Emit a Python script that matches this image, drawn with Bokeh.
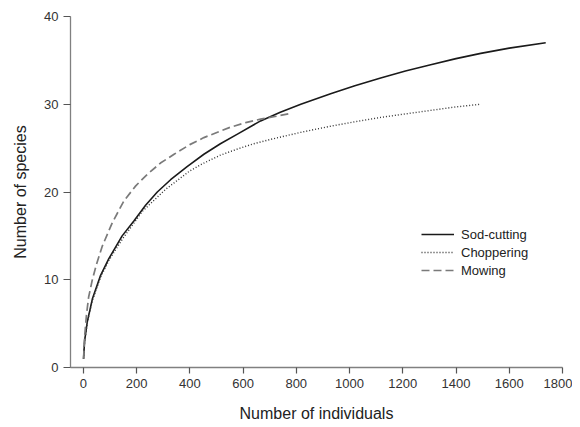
from bokeh.plotting import figure
from bokeh.models import Range1d, FixedTicker, Legend, LegendItem
from bokeh.embed import file_html
from bokeh.resources import INLINE

# Sod-cutting (solid)
sod_x = [1, 5, 15, 34, 65, 96, 146, 190, 234, 278, 328, 390, 453, 515, 579, 666, 740, 817, 929, 1020,
         1117, 1210, 1305, 1400, 1493, 1600, 1737]
sod_y = [1, 3.0, 5.2, 7.8, 10.5, 12.4, 15.0, 16.7, 18.5, 20.0, 21.4, 22.9, 24.3, 25.5, 26.6, 28.1, 29.1,
         30.0, 31.2, 32.1, 33.0, 33.8, 34.5, 35.2, 35.8, 36.4, 37.0]

# Choppering (dotted)
chop_x = [1, 5, 15, 34, 65, 96, 146, 222, 309, 400, 453, 515, 579, 640, 704, 817, 929, 1020, 1117, 1210,
          1305, 1400, 1493]
chop_y = [1, 3.0, 5.1, 7.6, 10.3, 12.2, 14.6, 17.8, 20.3, 22.4, 23.3, 24.2, 24.9, 25.5, 26.0, 26.8, 27.5,
          28.0, 28.5, 28.9, 29.3, 29.7, 30.0]

# Mowing (dashed)
mow_x = [1, 5, 12, 20, 34, 50, 71, 109, 153, 197, 240, 290, 341, 400, 453, 554, 610, 666, 720, 770]
mow_y = [1, 3.5, 6.0, 8.0, 10.0, 11.8, 13.8, 16.5, 19.0, 20.7, 22.0, 23.3, 24.3, 25.4, 26.2, 27.4, 27.9,
         28.3, 28.6, 28.9]

x_ticks = [0, 200, 400, 600, 800, 1000, 1200, 1400, 1600, 1800]
y_ticks = [0, 10, 20, 30, 40]

FONT = "Liberation Sans"

p = figure(width=572, height=424, output_backend="svg", toolbar_location=None,
           x_range=Range1d(-48, 1800), y_range=Range1d(0, 40),
           min_border_left=70, min_border_right=10, min_border_top=16, min_border_bottom=55,
           x_axis_label="Number of individuals", y_axis_label="Number of species")
p.outline_line_color = None
p.grid.visible = False
p.background_fill_color = "white"

for ax in (p.xaxis[0], p.yaxis[0]):
    ax.axis_line_color = "#808080"
    ax.axis_line_width = 1.3
    ax.major_tick_line_color = "#555555"
    ax.major_tick_line_width = 1.2
    ax.minor_tick_line_color = None
    ax.major_tick_in = 0
    ax.major_label_text_font = FONT
    ax.major_label_text_font_size = "13px"
    ax.major_label_text_color = "#333333"
    ax.axis_label_text_font = FONT
    ax.axis_label_text_font_size = "16px"
    ax.axis_label_text_font_style = "normal"
    ax.axis_label_text_color = "#222222"

p.xaxis[0].ticker = FixedTicker(ticks=x_ticks)
p.yaxis[0].ticker = FixedTicker(ticks=y_ticks)
p.xaxis[0].major_tick_out = 6
p.xaxis[0].major_label_standoff = 5
p.xaxis[0].axis_label_standoff = 14
p.yaxis[0].major_tick_out = 7
p.yaxis[0].major_label_standoff = 5
p.yaxis[0].axis_label_standoff = 12

r_sod = p.line(sod_x, sod_y, line_color="#1a1a1a", line_width=1.6)
r_chop = p.line(chop_x, chop_y, line_color="#333333", line_width=1.4, line_dash="1 2")
r_mow = p.line(mow_x, mow_y, line_color="#7a7a7a", line_width=1.7, line_dash="8 4")

legend = Legend(items=[LegendItem(label="Sod-cutting", renderers=[r_sod]),
                       LegendItem(label="Choppering", renderers=[r_chop]),
                       LegendItem(label="Mowing", renderers=[r_mow])],
                location=(351, 88), margin=0, padding=0, spacing=0,
                glyph_width=33, glyph_height=18, label_height=18, label_standoff=7,
                border_line_color=None, background_fill_alpha=0,
                label_text_font=FONT, label_text_font_size="13px", label_text_color="#222222")
p.add_layout(legend, "center")

open("out.html", "w").write(file_html(p, INLINE))
